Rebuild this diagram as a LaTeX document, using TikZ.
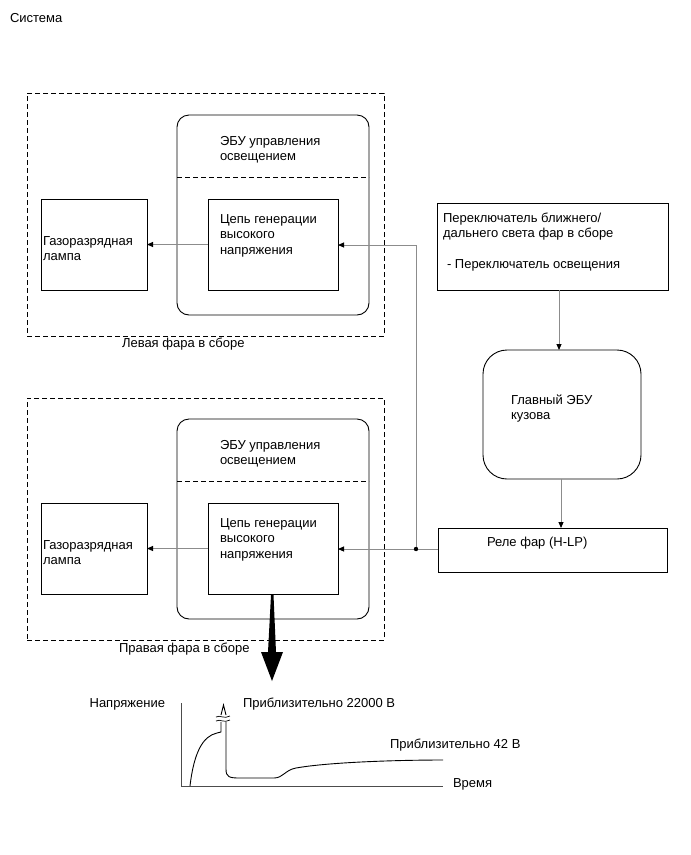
\documentclass[tikz,border=0pt]{standalone}
\usepackage{fontspec}
\setmainfont{Liberation Sans}
\usetikzlibrary{arrows.meta}
\begin{document}
\begin{tikzpicture}[x=1pt,y=-1pt,
  every node/.style={inner sep=0pt,outer sep=0pt},
  txt/.style={anchor=base west,align=left,font=\fontsize{13}{15.5}\selectfont},
  blk/.style={draw,line width=0.9pt,anchor=north west},
  ecubox/.style={draw,line width=0.9pt,anchor=north west,rounded corners=12pt},
  grp/.style={draw,line width=0.8pt,dash pattern=on 5pt off 3pt,anchor=north west},
  conn/.style={draw=black!45,line width=0.9pt,-{Triangle[length=6pt,width=5pt,color=black]}},
  wire/.style={draw=black!45,line width=0.9pt}]
\useasboundingbox (0,0) rectangle (691,855);

\node[txt] (title) at (10,22) {Система};

% left headlamp (multi-line text nodes are placed by their last baseline)
\node[grp,minimum width=357pt,minimum height=243pt] (grpL) at (27,93) {};
\node[ecubox,minimum width=192pt,minimum height=200pt] (ecuL) at (177,115) {};
\draw[line width=0.8pt,dash pattern=on 5pt off 3pt] (ecuL.west |- 0,177) -- (ecuL.east |- 0,177);
\node[txt] (ecuLt) at (220,160.5) {ЭБУ управления\\освещением};
\node[blk,minimum width=130pt,minimum height=91pt] (circL) at (208,199) {};
\node[txt] (circLt) at (220,254) {Цепь генерации\\высокого\\напряжения};
\node[blk,minimum width=106pt,minimum height=91pt] (lampL) at (41,199) {};
\node[txt] (lampLt) at (43,260.5) {Газоразрядная\\лампа};
\node[txt] (grpLt) at (122,347) {Левая фара в сборе};

% right headlamp
\node[grp,minimum width=357pt,minimum height=242pt] (grpR) at (27,398) {};
\node[ecubox,minimum width=192pt,minimum height=200pt] (ecuR) at (177,419) {};
\draw[line width=0.8pt,dash pattern=on 5pt off 3pt] (ecuR.west |- 0,481) -- (ecuR.east |- 0,481);
\node[txt] (ecuRt) at (220,464.5) {ЭБУ управления\\освещением};
\node[blk,minimum width=130pt,minimum height=91pt] (circR) at (208,503) {};
\node[txt] (circRt) at (220,558) {Цепь генерации\\высокого\\напряжения};
\node[blk,minimum width=106pt,minimum height=91pt] (lampR) at (41,503) {};
\node[txt] (lampRt) at (43,564.5) {Газоразрядная\\лампа};
\node[txt] (grpRt) at (119,652) {Правая фара в сборе};

% right side
\node[blk,minimum width=231pt,minimum height=87pt] (sw) at (437,203) {};
\node[txt] (swt) at (443,237.5) {Переключатель ближнего/\\дальнего света фар в сборе};
\node[txt] (swt2) at (447,268) {- Переключатель освещения};
\node[draw,line width=0.9pt,anchor=north west,rounded corners=24pt,minimum width=158pt,minimum height=129pt] (body) at (483,350) {};
\node[txt] (bodyt) at (511,419.5) {Главный ЭБУ\\кузова};
\node[blk,minimum width=229pt,minimum height=44pt] (relay) at (438,528) {};
\node[txt] (relayt) at (487,546) {Реле фар (H-LP)};

% connectors
\coordinate (a1) at (559,290);
\coordinate (a2) at (561,479);
\draw[conn] (a1) -- (a1 |- body.north);
\draw[conn] (a2) -- (a2 |- relay.north);
\coordinate (jR) at (416,549);
\coordinate (jL) at (416,245);
\draw[conn] (relay.west |- jR) -- (circR.east |- jR);
\draw[wire] (jR) -- (jL);
\draw[conn] (jL) -- (circL.east |- jL);
\draw[conn] (circL.west) -- (lampL.east);
\draw[conn] (circR.west) -- (lampR.east);
\fill (jR) circle (2.2pt);

% big arrow
\fill (271,595) -- (273.5,595) -- (276,652) -- (283,652) -- (272,681) -- (261,652) -- (268,652) -- cycle;

% graph
\coordinate (org) at (181,786);
\draw[line width=0.8pt,black!70] (181,703) -- (org) -- (443,786);
\node[txt,anchor=base east] (ylab) at (165,707) {Напряжение};
\node[txt] (hv) at (243,707) {Приблизительно 22000 В};
\node[txt] (lv) at (390,748) {Приблизительно 42 В};
\node[txt] (xlab) at (453,787) {Время};
\draw[line width=0.9pt] (190,786) .. controls (194,752) and (203,736) .. (217,733) -- (221,732) -- (221,722);
\draw[line width=0.9pt] (221,715) -- (223.5,705) -- (226,715);
\draw[line width=0.7pt] (216,717) .. controls (220,714.5) and (224,719.5) .. (230,716);
\draw[line width=0.7pt] (216,721) .. controls (220,718.5) and (224,723.5) .. (230,720);
\draw[line width=0.9pt] (226,722) -- (226,769) .. controls (226,777) and (229,778) .. (240,778) -- (274,778) .. controls (283,778) and (285,770) .. (296,768) .. controls (330,762) and (400,760) .. (443,760);
\end{tikzpicture}
\end{document}
